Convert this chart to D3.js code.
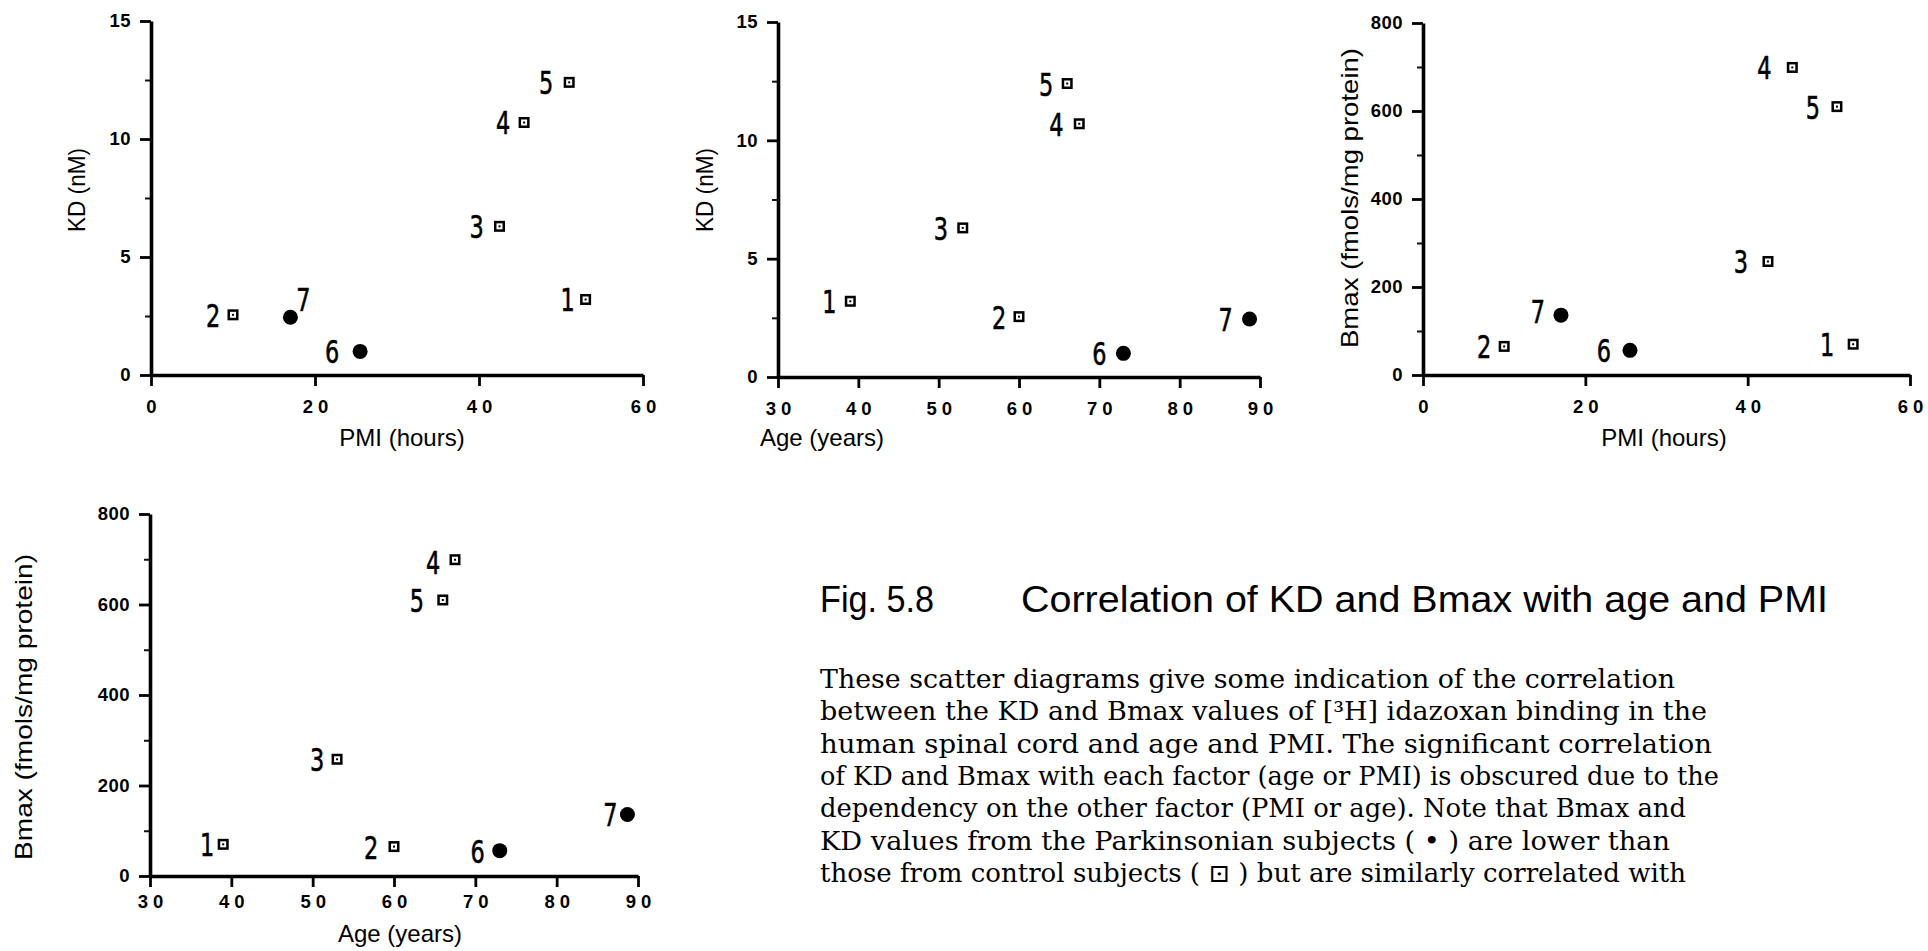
<!DOCTYPE html>
<html>
<head>
<meta charset="utf-8">
<script src="https://cdn.jsdelivr.net/npm/d3@7"></script>
<style>
  html, body { margin: 0; padding: 0; background: #fff; }
  svg { display: block; }
</style>
</head>
<body>
<svg id="fig" width="1928" height="951"></svg>
<script>
// ---------------- data ----------------
const subjects  = ["1", "2", "3", "4", "5", "6", "7"];
const groups    = ["control", "control", "control", "control", "control", "parkinson", "parkinson"];
const pmiHours  = [53, 10, 42.5, 45.5, 51, 25.5, 17];
const ageYears  = [39, 60, 53, 67.5, 66, 73, 88.7];
const kdNM      = [3.2, 2.55, 6.3, 10.7, 12.4, 1.0, 2.45];
const bmaxFmol  = [70, 65, 258, 699, 610, 56, 136];

const pmiTicks  = [0, 20, 40, 60];
const ageTicks  = [30, 40, 50, 60, 70, 80, 90];
const kdTicks   = [0, 5, 10, 15];
const kdMinor   = [2.5, 7.5, 12.5];
const bmaxTicks = [0, 200, 400, 600, 800];
const bmaxMinor = [100, 300, 500, 700];

const titleFig  = "Fig. 5.8";
const titleText = "Correlation of KD and Bmax with age and PMI";
const bodyLines = [
  "These scatter diagrams give some indication of the correlation",
  "between the KD and Bmax values of [\u00B3H] idazoxan binding in the",
  "human spinal cord and age and PMI.  The significant correlation",
  "of KD and Bmax with each factor (age or PMI) is obscured due to the",
  "dependency on the other factor (PMI or age). Note that Bmax and",
  "KD values from the Parkinsonian subjects ( \u2022  ) are lower than",
  "those from control subjects ( \u22A1 ) but are similarly correlated with"
];

// ---------------- layout / style ----------------
const panels = [
  { x: pmiHours, y: kdNM, xDom: [0, 60], yDom: [0, 15], xTicks: pmiTicks, yTicks: kdTicks, yMinor: kdMinor,
    x0: 151, x1: 643, yTop: 21, yBot: 375, xTitle: "PMI (hours)", yTitle: "KD (nM)",
    xTitlePos: [402, 446], yTitlePos: [77, 190], yTitleLen: 84, xLabOff: 33,
    lab: [[-18, 0], [-20, 0], [-23, 0], [-21, 0], [-23, 0], [-28, 0], [13, -18]] },
  { x: ageYears, y: kdNM, xDom: [30, 90], yDom: [0, 15], xTicks: ageTicks, yTicks: kdTicks, yMinor: kdMinor,
    x0: 778, x1: 1260, yTop: 22, yBot: 377, xTitle: "Age (years)", yTitle: "KD (nM)",
    xTitlePos: [822, 446], yTitlePos: [705, 190], yTitleLen: 84, xLabOff: 33,
    lab: [[-21, 0], [-20, 0], [-22, 0], [-23, 0], [-21, 0], [-24, 0], [-24, 0]] },
  { x: pmiHours, y: bmaxFmol, xDom: [0, 60], yDom: [0, 800], xTicks: pmiTicks, yTicks: bmaxTicks, yMinor: bmaxMinor,
    x0: 1423, x1: 1910, yTop: 23, yBot: 375, xTitle: "PMI (hours)", yTitle: "Bmax (fmols/mg protein)",
    xTitlePos: [1664, 446], yTitlePos: [1350, 198], yTitleLen: 300, xLabOff: 33,
    lab: [[-26, 0], [-20, 0], [-27, 0], [-28, 0], [-24, 0], [-26, 0], [-23, -4]] },
  { x: ageYears, y: bmaxFmol, xDom: [30, 90], yDom: [0, 800], xTicks: ageTicks, yTicks: bmaxTicks, yMinor: bmaxMinor,
    x0: 150, x1: 638, yTop: 514, yBot: 876, xTitle: "Age (years)", yTitle: "Bmax (fmols/mg protein)",
    xTitlePos: [400, 942], yTitlePos: [24, 707], yTitleLen: 306, xLabOff: 27,
    lab: [[-16, 0], [-23, 0], [-20, 0], [-22, 2], [-26, 0], [-22, 0], [-17, 0]] }
];

const svg = d3.select("#fig");

panels.forEach(p => {
  const xs = d3.scaleLinear().domain(p.xDom).range([p.x0, p.x1]);
  const ys = d3.scaleLinear().domain(p.yDom).range([p.yBot, p.yTop]);
  const g = svg.append("g");

  // y axis: minor ticks
  g.append("g").attr("transform", `translate(${p.x0},0)`)
    .call(d3.axisLeft(ys).tickValues(p.yMinor).tickSize(6).tickSizeOuter(0).tickFormat(""))
    .call(a => a.select(".domain").remove())
    .call(a => a.selectAll("line").attr("stroke", "#111").attr("stroke-width", 2));

  // y axis: major ticks
  g.append("g").attr("transform", `translate(${p.x0},0)`)
    .call(d3.axisLeft(ys).tickValues(p.yTicks).tickSize(11).tickSizeOuter(0).tickPadding(9))
    .call(a => a.select(".domain").attr("stroke", "#000").attr("stroke-width", 3.6))
    .call(a => a.selectAll("line").attr("stroke", "#000").attr("stroke-width", 2.8))
    .call(a => a.selectAll("text")
      .attr("font-family", "Liberation Sans, Arial, sans-serif")
      .attr("font-weight", "bold").attr("font-size", 18.5).attr("fill", "#000")
      .attr("letter-spacing", 0.5));

  // x axis
  g.append("g").attr("transform", `translate(0,${p.yBot})`)
    .call(d3.axisBottom(xs).tickValues(p.xTicks).tickSize(11).tickSizeOuter(0).tickPadding(p.xLabOff - 19))
    .call(a => a.select(".domain").attr("stroke", "#000").attr("stroke-width", 3.6))
    .call(a => a.selectAll("line").attr("stroke", "#000").attr("stroke-width", 2.8))
    .call(a => a.selectAll("text")
      .attr("font-family", "Liberation Sans, Arial, sans-serif")
      .attr("font-weight", "bold").attr("font-size", 18.5).attr("fill", "#000")
      .attr("letter-spacing", 5).attr("dx", 2.5));

  // axis titles
  g.append("text")
    .attr("x", p.xTitlePos[0]).attr("y", p.xTitlePos[1])
    .attr("text-anchor", "middle")
    .attr("font-family", "Liberation Sans, Arial, sans-serif")
    .attr("font-size", 24).attr("fill", "#000")
    .text(p.xTitle);

  g.append("text")
    .attr("transform", `translate(${p.yTitlePos[0]},${p.yTitlePos[1]}) rotate(-90)`)
    .attr("text-anchor", "middle").attr("dy", "0.35em")
    .attr("font-family", "Liberation Sans, Arial, sans-serif")
    .attr("font-size", 24).attr("fill", "#000")
    .attr("textLength", p.yTitleLen).attr("lengthAdjust", "spacingAndGlyphs")
    .text(p.yTitle);

  // points
  const idx = d3.range(subjects.length);
  const pts = g.selectAll("g.pt").data(idx).join("g")
    .attr("class", "pt")
    .attr("transform", i => `translate(${xs(p.x[i])},${ys(p.y[i])})`);

  pts.filter(i => groups[i] === "parkinson")
    .append("circle").attr("r", 7.5).attr("fill", "#000");

  const sq = pts.filter(i => groups[i] === "control");
  sq.append("rect").attr("x", -5.5).attr("y", -5.5).attr("width", 11).attr("height", 11).attr("fill", "#000");
  sq.append("rect").attr("x", -3).attr("y", -3).attr("width", 6).attr("height", 6).attr("fill", "#fff");
  sq.append("rect").attr("x", -1).attr("y", -1).attr("width", 2).attr("height", 2).attr("fill", "#000");

  // subject number labels
  pts.append("text")
    .attr("transform", i => `translate(${p.lab[i][0]},${p.lab[i][1] + 12}) scale(0.7,1)`)
    .attr("text-anchor", "middle")
    .attr("font-family", "DejaVu Sans, sans-serif")
    .attr("font-size", 32).attr("fill", "#000")
    .attr("stroke", "#000").attr("stroke-width", 0.6)
    .text(i => subjects[i]);
});

// ---------------- caption ----------------
svg.append("text")
  .attr("x", 820).attr("y", 612)
  .attr("font-family", "Liberation Sans, Arial, sans-serif")
  .attr("font-size", 36).attr("fill", "#000")
  .attr("textLength", 114).attr("lengthAdjust", "spacingAndGlyphs")
  .text(titleFig);

svg.append("text")
  .attr("x", 1021).attr("y", 612)
  .attr("font-family", "Liberation Sans, Arial, sans-serif")
  .attr("font-size", 36).attr("fill", "#000")
  .attr("textLength", 807).attr("lengthAdjust", "spacingAndGlyphs")
  .text(titleText);

const bodyWidths = [855, 887, 892, 899, 866, 850, 866];
bodyLines.forEach((line, li) => {
  svg.append("text")
    .attr("x", 820).attr("y", 688 + li * 32.3)
    .attr("font-family", "'DejaVu Serif', 'Liberation Serif', serif")
    .attr("font-size", 26).attr("fill", "#000")
    .attr("textLength", bodyWidths[li]).attr("lengthAdjust", "spacingAndGlyphs")
    .text(line);
});
</script>
</body>
</html>
